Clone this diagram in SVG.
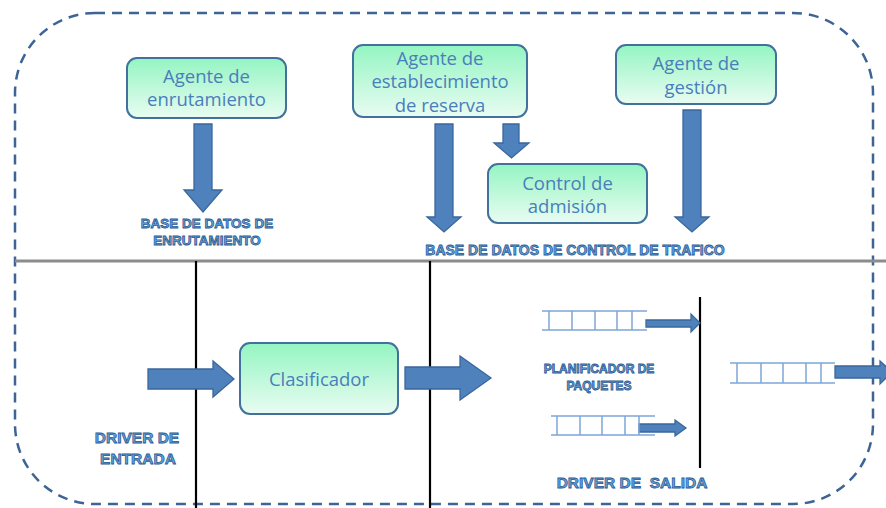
<svg xmlns="http://www.w3.org/2000/svg" width="886" height="508" viewBox="0 0 886 508">
  <defs>
    <linearGradient id="nodeFill" x1="0" y1="0" x2="0" y2="1">
      <stop offset="0" stop-color="#94f5c2"/>
      <stop offset="1" stop-color="#e9fcf2"/>
    </linearGradient>
    <style>
      .node rect { fill: url(#nodeFill); stroke: #41719c; stroke-width: 2; }
      .node text { font-family: "Open Sans", "Noto Sans", sans-serif; font-size: 18.5px; fill: #4a7ebb; text-anchor: middle; }
      .blk { fill: #4f81bd; stroke: #3a679c; stroke-width: 1.3; stroke-linejoin: miter; }
      .lbl { font-family: "Liberation Sans", Arial, sans-serif; font-weight: bold; fill: #6aa7e0; stroke: #2a5a92; stroke-width: 0.8; text-anchor: middle; }
      .queue { fill: none; stroke: #7ea4d8; stroke-width: 1.5; }
      .wire { stroke: #000; stroke-width: 2.2; }
    </style>
  </defs>

  <!-- router boundary -->
  <rect x="15" y="13" width="858" height="491" rx="80" ry="80" fill="none" stroke="#3d6495" stroke-width="2.5" stroke-dasharray="10 7"/>

  <!-- control plane / data plane separator -->
  <line x1="15" y1="261" x2="886" y2="261" stroke="#8c8c8c" stroke-width="3"/>

  <!-- nodes -->
  <g id="agente-enrutamiento" class="node">
    <rect x="127" y="58" width="159" height="60" rx="10"/>
    <text x="206.5" y="83">Agente de</text>
    <text x="206.5" y="106">enrutamiento</text>
  </g>
  <g id="agente-reserva" class="node">
    <rect x="353" y="45" width="174" height="72" rx="10"/>
    <text x="440" y="65">Agente de</text>
    <text x="440" y="88">establecimiento</text>
    <text x="440" y="112">de reserva</text>
  </g>
  <g id="control-admision" class="node">
    <rect x="488" y="164" width="159" height="59" rx="10"/>
    <text x="567.5" y="190">Control de</text>
    <text x="567.5" y="213">admisión</text>
  </g>
  <g id="agente-gestion" class="node">
    <rect x="616" y="45" width="160" height="59" rx="10"/>
    <text x="696" y="70">Agente de</text>
    <text x="696" y="94">gestión</text>
  </g>
  <g id="clasificador" class="node">
    <rect x="240" y="343" width="158" height="71" rx="10"/>
    <text x="319" y="386">Clasificador</text>
  </g>

  <!-- connectors -->
  <g id="connectors">
    <!-- driver boundaries -->
    <line class="wire" x1="196" y1="261" x2="196" y2="508"/>
    <line class="wire" x1="430" y1="261" x2="430" y2="508"/>
    <line class="wire" x1="700" y1="297" x2="700" y2="468"/>

    <!-- downward block arrows -->
    <polygon class="blk" points="194,124 212,124 212,190 222,190 203,212 184,190 194,190"/>
    <polygon class="blk" points="435,124 453,124 453,217 461,217 444,232 427,217 435,217"/>
    <polygon class="blk" points="503,124 519,124 519,143 529,143 511.5,158 494,143 503,143"/>
    <polygon class="blk" points="683,110 701,110 701,217 709,217 692,232 675,217 683,217"/>

    <!-- rightward block arrows -->
    <polygon class="blk" points="148,369 213,369 213,361 234,379 213,397 213,389 148,389"/>
    <polygon class="blk" points="405,367 460,367 460,356 491,378 460,400 460,389 405,389"/>
    <polygon class="blk" points="646,320 691,320 691,314 700,323 691,332 691,327 646,327"/>
    <polygon class="blk" points="639,424 675,424 675,420 686,428 675,436 675,432 639,432"/>
    <polygon class="blk" points="835,366 880,366 880,361 892,372 880,384 880,378 835,378"/>

    <!-- output queues -->
    <g class="queue">
      <line x1="542" y1="311" x2="647" y2="311"/>
      <line x1="542" y1="330" x2="647" y2="330"/>
      <line x1="549" y1="311" x2="549" y2="330"/>
      <line x1="572" y1="311" x2="572" y2="330"/>
      <line x1="595" y1="311" x2="595" y2="330"/>
      <line x1="617" y1="311" x2="617" y2="330"/>
      <line x1="632" y1="311" x2="632" y2="330"/>

      <line x1="551" y1="416" x2="655" y2="416"/>
      <line x1="551" y1="435" x2="655" y2="435"/>
      <line x1="557" y1="416" x2="557" y2="435"/>
      <line x1="580" y1="416" x2="580" y2="435"/>
      <line x1="602" y1="416" x2="602" y2="435"/>
      <line x1="625" y1="416" x2="625" y2="435"/>
      <line x1="639" y1="416" x2="639" y2="435"/>

      <line x1="730" y1="363" x2="835" y2="363"/>
      <line x1="730" y1="383" x2="835" y2="383"/>
      <line x1="737" y1="363" x2="737" y2="383"/>
      <line x1="761" y1="363" x2="761" y2="383"/>
      <line x1="783" y1="363" x2="783" y2="383"/>
      <line x1="806" y1="363" x2="806" y2="383"/>
      <line x1="821" y1="363" x2="821" y2="383"/>
    </g>
  </g>

  <!-- labels -->
  <g id="labels">
    <text class="lbl" x="207" y="228" font-size="13.5">BASE DE DATOS DE</text>
    <text class="lbl" x="207" y="245" font-size="13.5">ENRUTAMIENTO</text>
    <text class="lbl" x="575" y="255" font-size="14">BASE DE DATOS DE CONTROL DE TRAFICO</text>
    <text class="lbl" x="599" y="373" font-size="12">PLANIFICADOR DE</text>
    <text class="lbl" x="599" y="390" font-size="12">PAQUETES</text>
    <text class="lbl" x="137" y="443" font-size="15.5">DRIVER DE</text>
    <text class="lbl" x="138" y="464" font-size="15.5">ENTRADA</text>
    <text class="lbl" x="632" y="488" font-size="15.5" xml:space="preserve">DRIVER DE  SALIDA</text>
  </g>
</svg>
